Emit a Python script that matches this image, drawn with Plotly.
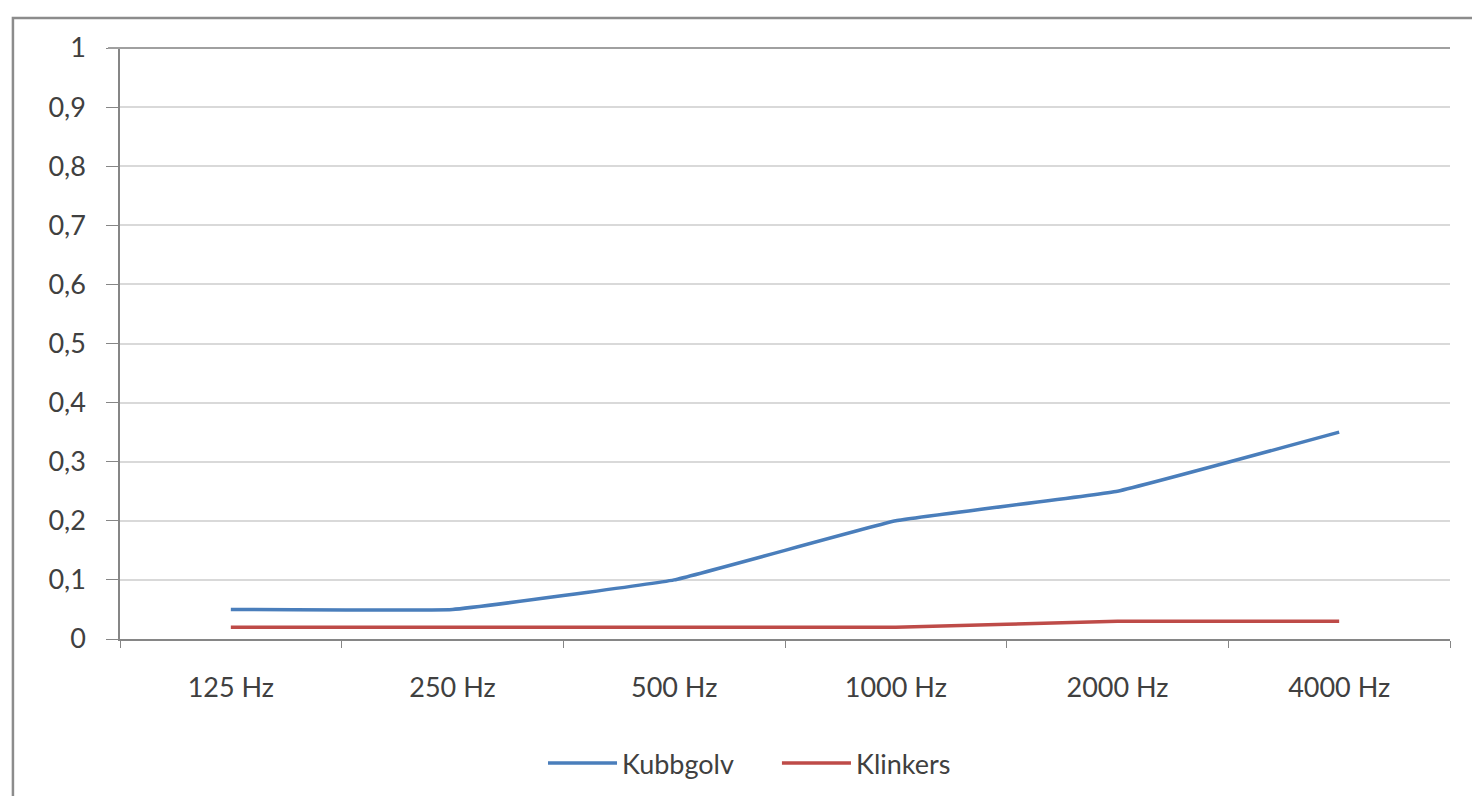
import plotly.graph_objects as go

# Absorption coefficients per octave band
bands = ["125 Hz", "250 Hz", "500 Hz", "1000 Hz", "2000 Hz", "4000 Hz"]
kubbgolv = [0.05, 0.05, 0.10, 0.20, 0.25, 0.35]
klinkers = [0.02, 0.02, 0.02, 0.02, 0.03, 0.03]

series_names = ["Kubbgolv", "Klinkers"]
series_colors = ["#4A7EBB", "#BE4B48"]

y_ticks = [0, 0.1, 0.2, 0.3, 0.4, 0.5, 0.6, 0.7, 0.8, 0.9, 1]
y_tick_text = ["0", "0,1", "0,2", "0,3", "0,4", "0,5", "0,6", "0,7", "0,8", "0,9", "1"]

FONT = "Lato"
SIZE = 27
TEXT = "#404040"

fig = go.Figure()
for name, values, color in zip(series_names, [kubbgolv, klinkers], series_colors):
    fig.add_trace(go.Scatter(
        x=bands, y=values, name=name, mode="lines", showlegend=False,
        line=dict(color=color, width=3.5, shape="spline", smoothing=0.25),
    ))

shapes = [
    # darker line along the top of the plot area
    dict(type="line", xref="paper", yref="paper", x0=-0.009, x1=1, y0=1, y1=1,
         line=dict(color="#A0A0A0", width=2)),
    # outer chart frame
    dict(type="rect", xref="paper", yref="paper",
         x0=-0.0805, x1=1.03, y0=-0.28, y1=1.0508,
         line=dict(color="#8C8C8C", width=2.5), layer="below"),
]

# Legend below the plot: a long line sample followed by the series name
legend_y = -0.21
legend_x = [(0.3218, 0.3737), (0.4977, 0.5496)]
annotations = []
for (x0, x1), name, color in zip(legend_x, series_names, series_colors):
    shapes.append(dict(type="line", xref="paper", yref="paper",
                       x0=x0, x1=x1, y0=legend_y, y1=legend_y,
                       line=dict(color=color, width=3.5)))
    annotations.append(dict(xref="paper", yref="paper", x=x1 + 0.002, y=legend_y,
                            xanchor="left", yanchor="middle", showarrow=False,
                            text=name, font=dict(family=FONT, size=SIZE, color=TEXT)))

fig.update_layout(
    width=1472, height=796,
    margin=dict(l=120, r=22, t=48, b=157, autoexpand=False),
    paper_bgcolor="white", plot_bgcolor="white",
    font=dict(family=FONT, size=SIZE, color=TEXT),
    showlegend=False,
    xaxis=dict(
        type="category", range=[-0.5, 5.5], tickson="boundaries",
        ticks="outside", ticklen=7, tickcolor="#868686",
        showline=True, linecolor="#868686", linewidth=1.5,
        showgrid=False, ticklabelstandoff=24, zeroline=False, automargin=False,
        tickfont=dict(family=FONT, size=SIZE, color=TEXT),
    ),
    yaxis=dict(
        range=[0, 1], tickvals=y_ticks, ticktext=y_tick_text,
        ticks="outside", ticklen=12, tickcolor="#868686",
        showline=True, linecolor="#868686", linewidth=1.5,
        showgrid=True, gridcolor="#D9D9D9", gridwidth=2, zeroline=False,
        ticklabelstandoff=15, automargin=False,
        tickfont=dict(family=FONT, size=SIZE, color=TEXT),
    ),
    shapes=shapes,
    annotations=annotations,
)

fig.write_html("out.html")
